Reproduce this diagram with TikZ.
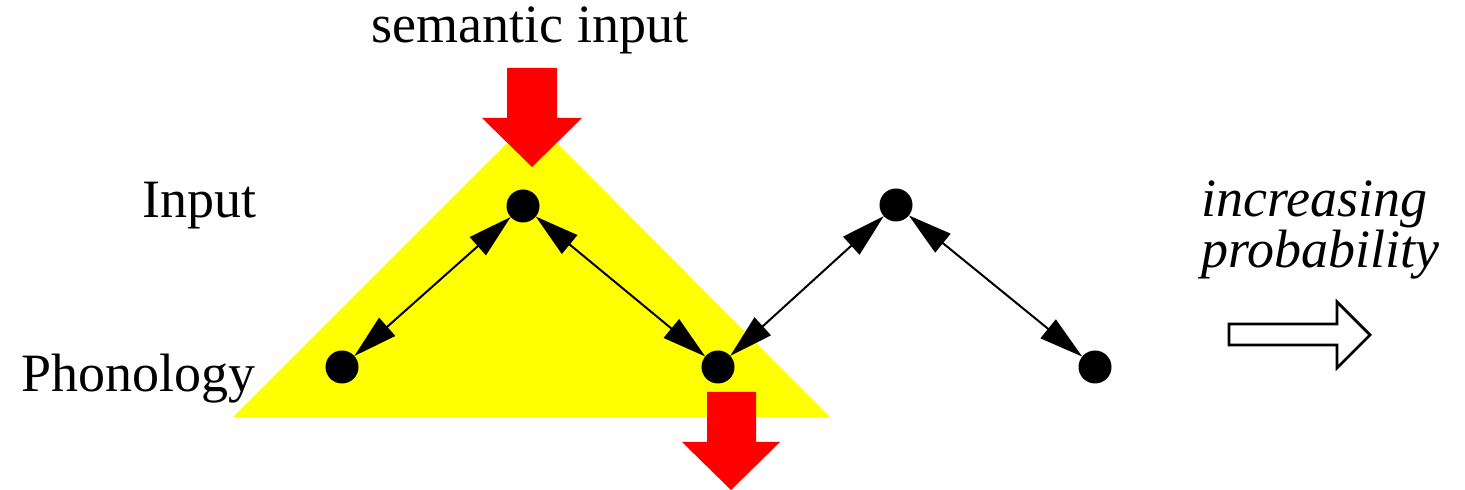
\documentclass[tikz,border=0pt]{standalone}
\usepackage{fontspec}
\setmainfont{Liberation Serif}
\usetikzlibrary{arrows.meta, backgrounds}
\definecolor{semred}{HTML}{FF0000}
\definecolor{triyellow}{HTML}{FFFF00}

\begin{document}
\begin{tikzpicture}[
    x=0.5pt, y=-0.5pt,
    unit/.style={circle, fill=black, minimum size=16.5pt, inner sep=0pt, outer sep=0pt},
    txt/.style={font=\fontsize{27}{20.5}\selectfont, inner sep=0pt},
    link/.style={{Triangle[length=22pt,width=12pt]}-{Triangle[length=22pt,width=12pt]}, line width=1pt},
    bigarrow/.style={fill=semred},
    hollow/.style={draw=black, line width=1.4pt, fill=white, line join=miter}
]
\useasboundingbox (0,0) rectangle (1465,490);

% Units
\node[unit] (in1) at (523,206) {};
\node[unit] (in2) at (896,205) {};
\node[unit] (ph1) at (342,367) {};
\node[unit] (ph2) at (718,367) {};
\node[unit] (ph3) at (1095,367) {};

% Labels
\node[txt, anchor=base] (sem) at (530,43) {semantic input};
\node[txt, anchor=base east] (inlab) at (257,218) {Input};
\node[txt, anchor=base east] (phlab) at (256,392) {Phonology};
\node[txt, anchor=north west, align=left, font=\fontsize{27}{20.5}\selectfont\itshape] (prob) at (1201,180) {increasing\\probability};

% Basin and semantic drive
\begin{scope}[on background layer]
    \fill[triyellow] (233,417) -- (830,417) -- (532,118) -- cycle;
    \fill[bigarrow] (507,68) -- (557,68) -- (557,118) -- (582,118) -- (532,167)
        -- (482,118) -- (507,118) -- cycle;
\end{scope}
\fill[bigarrow] (707,392) -- (756,392) -- (756,442) -- (780,442) -- (731,490)
    -- (682,442) -- (707,442) -- cycle;

% Links
\draw[link] (in1) -- (ph1);
\draw[link] (in1) -- (ph2);
\draw[link] (ph2) -- (in2);
\draw[link] (in2) -- (ph3);

% Direction
\draw[hollow] (1229,324) -- (1337,324) -- (1337,302) -- (1370,335) -- (1337,368)
    -- (1337,345) -- (1229,345) -- cycle;

\end{tikzpicture}
\end{document}
